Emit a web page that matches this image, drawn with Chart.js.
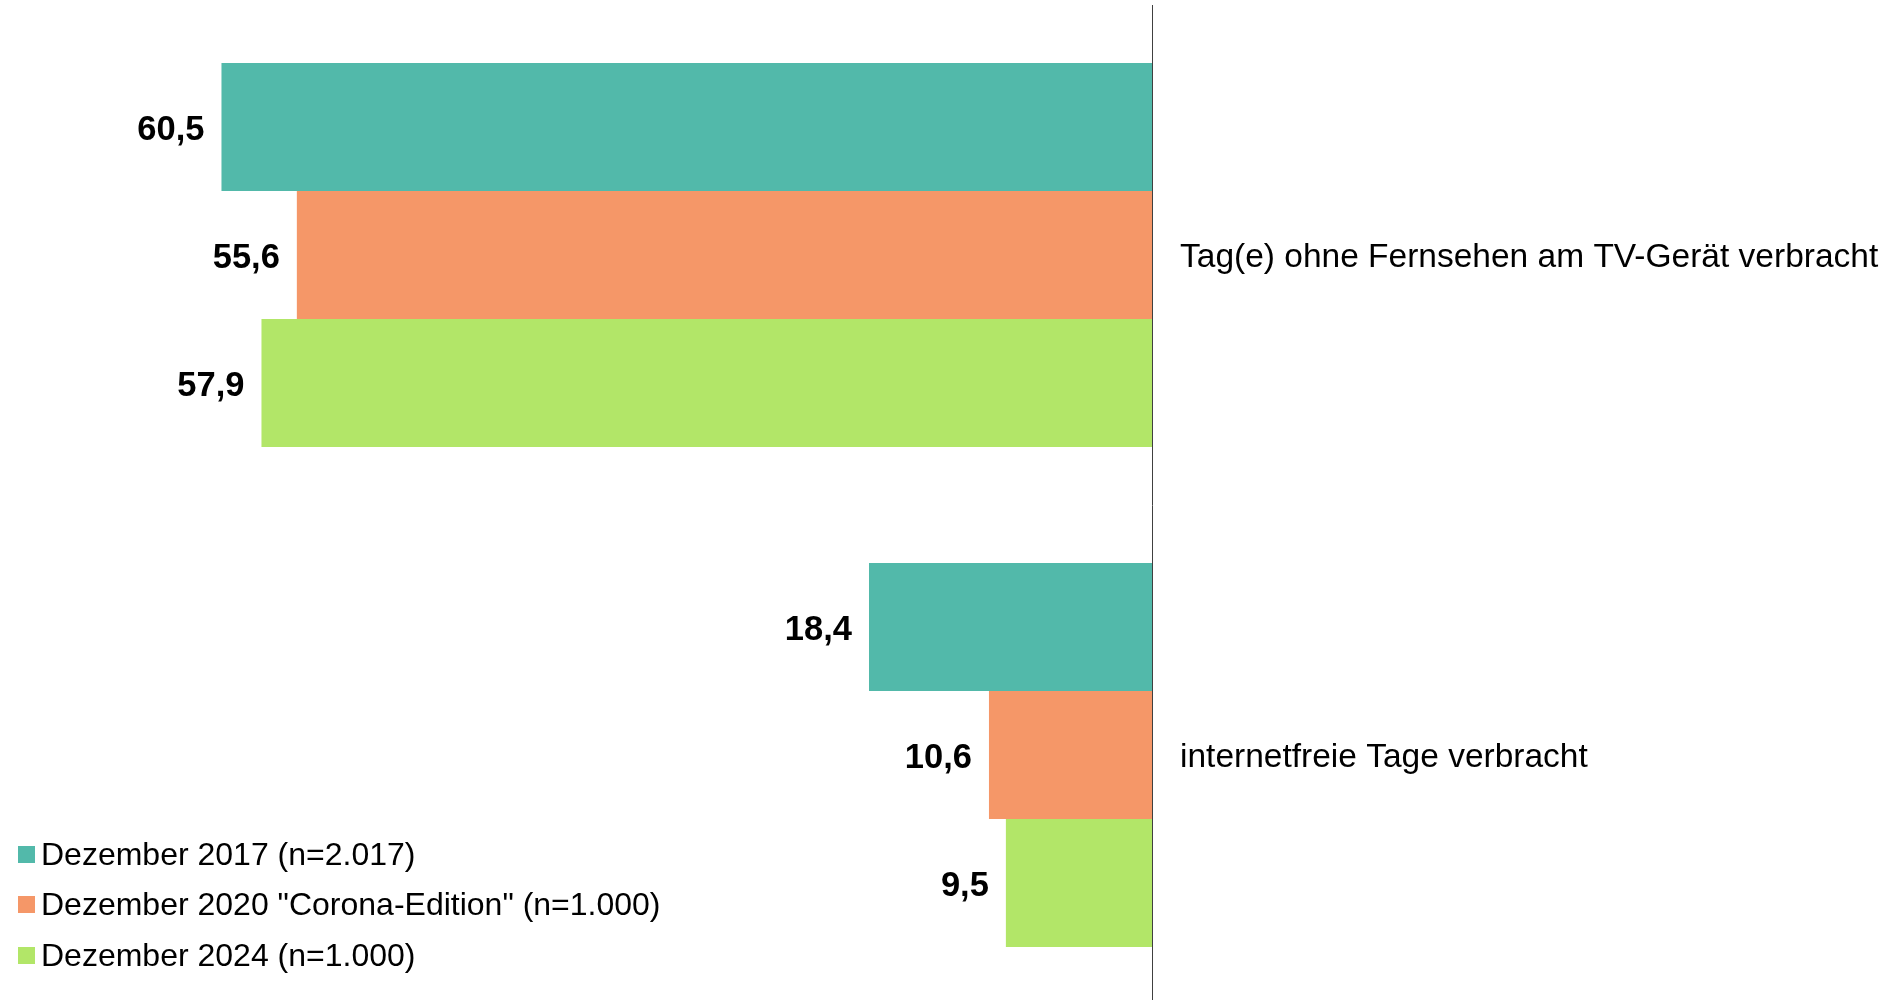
<!DOCTYPE html>
<html lang="de">
<head>
<meta charset="utf-8">
<title>Tage ohne Fernsehen / Internet</title>
<script src="https://cdn.jsdelivr.net/npm/chart.js@4.4.1/dist/chart.umd.min.js"></script>
<style>
    body {
        margin: 0;
        background: #fff;
        font-family: "Liberation Sans", Arial, sans-serif;
    }
    #wrap {
        position: relative;
        width: 1896px;
        height: 1000px;
        overflow: hidden;
    }
    #legend {
        position: absolute;
        left: 18px;
        top: 829px;
        margin: 0;
        padding: 0;
        list-style: none;
    }
    #legend li {
        display: flex;
        align-items: center;
        height: 50.5px;
        font-size: 32px;
        color: #000;
        white-space: nowrap;
    }
    #legend li span {
        display: inline-block;
        width: 17px;
        height: 17px;
        margin-right: 6px;
    }
</style>
</head>
<body>
<div id="wrap">
    <canvas id="barChart"></canvas>
    <ul id="legend"></ul>
</div>
<script>
var categories = [
    "Tag(e) ohne Fernsehen am TV-Gerät verbracht",
    "internetfreie Tage verbracht",
];
var series_names = [
    "Dezember 2017 (n=2.017)",
    'Dezember 2020 "Corona-Edition" (n=1.000)',
    "Dezember 2024 (n=1.000)",
];
var values_2017 = [60.5, 18.4];
var values_2020 = [55.6, 10.6];
var values_2024 = [57.9, 9.5];
var series_colors = ["#52B9AA", "#F59768", "#B2E668"];

var fontFamily = '"Liberation Sans", Arial, sans-serif';

function formatDe(v) {
    return v.toFixed(1).replace(".", ",");
}

//-------------------
//- VALUE LABELS    -
//-------------------
var valueLabels = {
    id: "valueLabels",
    afterDatasetsDraw: function (chart) {
        var ctx = chart.ctx;
        ctx.save();
        ctx.font = "bold 34.5px " + fontFamily;
        ctx.fillStyle = "#000";
        ctx.textAlign = "right";
        ctx.textBaseline = "middle";
        chart.data.datasets.forEach(function (ds, i) {
            var meta = chart.getDatasetMeta(i);
            meta.data.forEach(function (bar, j) {
                ctx.fillText(formatDe(ds.data[j]), bar.x - 17, bar.y + 3);
            });
        });
        ctx.restore();
    },
};

//-------------------
//- HTML LEGEND     -
//-------------------
var htmlLegend = {
    id: "htmlLegend",
    afterUpdate: function (chart) {
        var ul = document.getElementById("legend");
        ul.innerHTML = "";
        chart.data.datasets.forEach(function (ds) {
            var li = document.createElement("li");
            var box = document.createElement("span");
            box.style.background = ds.backgroundColor;
            li.appendChild(box);
            li.appendChild(document.createTextNode(ds.label));
            ul.appendChild(li);
        });
    },
};

// canvas a bit taller than the page, the axis runs off the bottom edge
var canvas = document.getElementById("barChart");
canvas.width = 1896;
canvas.height = 1005;

var barData = {
    labels: categories,
    datasets: [
        { label: series_names[0], data: values_2017, backgroundColor: series_colors[0] },
        { label: series_names[1], data: values_2020, backgroundColor: series_colors[1] },
        { label: series_names[2], data: values_2024, backgroundColor: series_colors[2] },
    ],
};

new Chart(canvas.getContext("2d"), {
    type: "bar",
    data: barData,
    plugins: [valueLabels, htmlLegend],
    options: {
        indexAxis: "y",
        responsive: false,
        animation: false,
        devicePixelRatio: 1,
        barPercentage: 1,
        categoryPercentage: 0.768,
        layout: {
            padding: { top: 5, right: 0, bottom: 0, left: 0 },
        },
        plugins: {
            legend: { display: false },
            tooltip: { enabled: false },
        },
        scales: {
            x: {
                display: false,
                reverse: true,
                min: 0,
                max: 74.9,
            },
            y: {
                position: "right",
                grid: { display: false, drawTicks: false },
                border: { display: true, color: "#404040", width: 1 },
                ticks: {
                    padding: 28,
                    labelOffset: 3,
                    color: "#000",
                    font: { family: fontFamily, size: 33.5 },
                },
                afterFit: function (scale) {
                    scale.width = 744;
                    scale.paddingTop = 0;
                    scale.paddingBottom = 0;
                },
            },
        },
    },
});
</script>
</body>
</html>
